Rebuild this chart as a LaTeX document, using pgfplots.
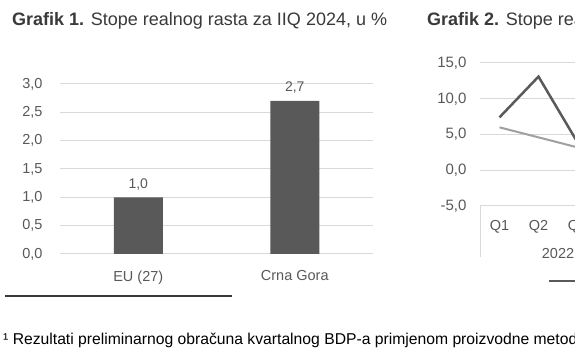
\documentclass[border=0pt]{standalone}
\usepackage{pgfplots}
\pgfplotsset{compat=1.18}
\usepackage{fontspec}
\setmainfont{Liberation Sans}
\definecolor{barc}{HTML}{595959}
\definecolor{gridc}{HTML}{D9D9D9}
\definecolor{txt}{HTML}{595959}
\definecolor{ttl}{HTML}{3A3A3A}
\definecolor{dk}{HTML}{5A5A5A}
\definecolor{lt}{HTML}{A0A0A0}
\pgfkeys{/pgf/number format/.cd, use comma, fixed, fixed zerofill, precision=1, assume math mode=true}
\begin{document}
\begin{tikzpicture}[x=1pt,y=1pt]
\clip (0pt,0pt) rectangle (575pt,356pt);
\fill[white] (0pt,0pt) rectangle (575pt,356pt);
% titles
\node[anchor=base west, inner sep=0, text=ttl, font=\fontsize{18}{20}\selectfont] at (12pt,330pt) {\textbf{Grafik 1.} Stope realnog rasta za IIQ 2024, u \%};
\node[anchor=base west, inner sep=0, text=ttl, font=\fontsize{18}{20}\selectfont] at (427pt,330pt) {\textbf{Grafik 2.} Stope realnog rasta BDP-a, u \%};
% chart 1
\begin{axis}[
  at={(60pt,102pt)}, anchor=south west, scale only axis,
  width=313pt, height=170pt,
  xmin=-0.5, xmax=1.5, ymin=0, ymax=3,
  ytick={0,0.5,...,3.01}, xtick={0,1}, xticklabels={EU (27), Crna Gora},
  axis line style={draw=none}, major tick length=0pt,
  ymajorgrids, grid style={gridc, line width=1pt},
  ybar, bar width=49pt,
  nodes near coords,
  nodes near coords style={font=\fontsize{14}{16}\selectfont, text=txt, anchor=south, yshift=4pt},
  yticklabel style={font=\fontsize{14.5}{16}\selectfont, text=txt, xshift=-14pt},
  xticklabel style={font=\fontsize{14.5}{16}\selectfont, text=txt, yshift=-13pt},
  clip=false,
]
\addplot[fill=barc, draw=none] coordinates {(0,1.0) (1,2.7)};
\end{axis}
% chart 2
\begin{axis}[
  at={(480pt,150pt)}, anchor=south west, scale only axis,
  width=390pt, height=143pt,
  xmin=-0.5, xmax=9.5, ymin=-5, ymax=15,
  ytick={-5,0,...,15}, xtick={0,...,9},
  xticklabels={Q1,Q2,Q3,Q4,Q1,Q2,Q3,Q4,Q1,Q2},
  axis line style={draw=none}, major tick length=0pt,
  ymajorgrids, grid style={gridc, line width=1pt},
  yticklabel style={font=\fontsize{15}{16}\selectfont, text=txt, xshift=-10pt},
  xticklabel style={font=\fontsize{14.5}{16}\selectfont, text=txt, yshift=-11pt},
  clip=false,
  legend columns=2,
  legend style={at={(0.174,-0.524)}, anchor=west, draw=none, fill=none, inner sep=0pt,
    font=\fontsize{14}{16}\selectfont, text=txt},
  legend image code/.code={\draw[#1, line width=2.5pt] (0pt,0pt) -- (32pt,0pt);},
]
\addplot[dk, line width=2.5pt] coordinates {(0,7.4) (1,13.1) (2,3.9)};
\addlegendentry{Crna Gora}
\addplot[lt, line width=2pt] coordinates {(0,6.0) (1,4.6) (2,3.2)};
\addlegendentry{EU (27)}
\draw[gridc, line width=1pt] (axis cs:-0.5,-5) -- ++(0pt,-51pt);
\draw[gridc, line width=1pt] (axis cs:3.5,-5) -- ++(0pt,-51pt);
\node[font=\fontsize{14.5}{16}\selectfont, text=txt] at (axis cs:1.5,-5) [yshift=-48pt] {2022};
\end{axis}
% footnote
\draw[line width=1.2pt, ttl] (5pt,60pt) -- (232pt,60pt);
\node[anchor=base west, inner sep=0, text=black, font=\fontsize{15.7}{17}\selectfont] at (3pt,12pt) {¹ Rezultati preliminarnog obračuna kvartalnog BDP-a primjenom proizvodne metode};
\end{tikzpicture}
\end{document}
